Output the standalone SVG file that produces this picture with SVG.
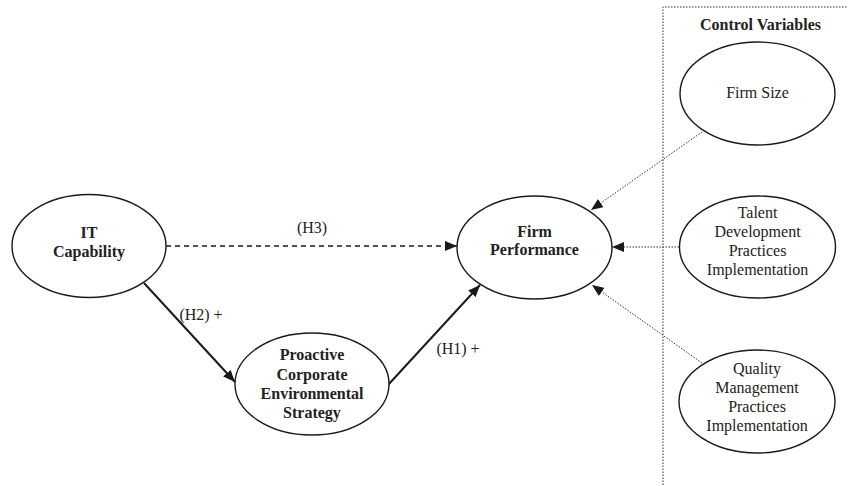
<svg xmlns="http://www.w3.org/2000/svg" width="849" height="486" viewBox="0 0 849 486">
<style>
.bg{fill:#fff}
.node ellipse{fill:#fff;stroke:#1a1a1a;stroke-width:1.4}
text{font-family:"Liberation Serif","Times New Roman",serif;font-size:16px;fill:#222;text-anchor:middle}
.b{font-weight:bold}
.solid{stroke:#1a1a1a;stroke-width:2;fill:none}
.dash{stroke:#1a1a1a;stroke-width:1.4;fill:none;stroke-dasharray:5,4}
.dot{stroke:#333;stroke-width:1;fill:none;stroke-dasharray:1.5,1.5}
</style>
<defs>
<marker id="ah" markerWidth="12" markerHeight="10" refX="12" refY="5" orient="auto" markerUnits="userSpaceOnUse">
<path d="M0,0 L12,5 L0,10 Z" fill="#1a1a1a"/>
</marker>
</defs>
<rect class="bg" width="849" height="486"/>
<g id="control-box">
<path class="dot" d="M663,485 L663,7 L848,7"/>
<text class="b" x="760.5" y="30">Control Variables</text>
</g>
<g id="connectors">
<line class="dash" x1="166" y1="246" x2="457" y2="246" marker-end="url(#ah)"/>
<line class="solid" x1="144" y1="283" x2="235" y2="382" marker-end="url(#ah)"/>
<line class="solid" x1="388" y1="385" x2="480" y2="285" marker-end="url(#ah)"/>
<line class="dot" x1="702" y1="132" x2="591" y2="210" marker-end="url(#ah)"/>
<line class="dot" x1="679" y1="247" x2="612" y2="247" marker-end="url(#ah)"/>
<line class="dot" x1="702" y1="363" x2="592" y2="285" marker-end="url(#ah)"/>
<text x="312" y="233">(H3)</text>
<text x="201" y="320">(H2) +</text>
<text x="458" y="354">(H1) +</text>
</g>
<g id="it-capability" class="node">
<ellipse cx="89" cy="246" rx="77" ry="51.5"/>
<text class="b" x="89" y="238">IT</text>
<text class="b" x="89" y="257">Capability</text>
</g>
<g id="proactive-strategy" class="node">
<ellipse cx="312" cy="384" rx="77" ry="51"/>
<text class="b" x="312" y="360">Proactive</text>
<text class="b" x="312" y="379.5">Corporate</text>
<text class="b" x="312" y="399">Environmental</text>
<text class="b" x="312" y="418">Strategy</text>
</g>
<g id="firm-performance" class="node">
<ellipse cx="534.5" cy="247.5" rx="77.5" ry="51.5"/>
<text class="b" x="534.5" y="237">Firm</text>
<text class="b" x="534.5" y="255">Performance</text>
</g>
<g id="firm-size" class="node">
<ellipse cx="757.5" cy="93.5" rx="77.5" ry="51.5"/>
<text x="757.5" y="98">Firm Size</text>
</g>
<g id="talent-development" class="node">
<ellipse cx="757.5" cy="247" rx="78" ry="51"/>
<text x="757.5" y="218">Talent</text>
<text x="757.5" y="237">Development</text>
<text x="757.5" y="256">Practices</text>
<text x="757.5" y="275">Implementation</text>
</g>
<g id="quality-management" class="node">
<ellipse cx="757" cy="401.5" rx="78" ry="51.5"/>
<text x="757" y="374">Quality</text>
<text x="757" y="393">Management</text>
<text x="757" y="412">Practices</text>
<text x="757" y="431">Implementation</text>
</g>
</svg>
